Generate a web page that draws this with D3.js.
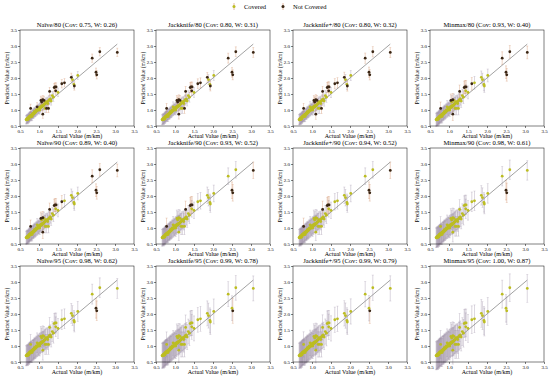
<!DOCTYPE html>
<html>
<head>
<meta charset="utf-8">
<script src="https://cdn.jsdelivr.net/npm/d3@7"></script>
<style>
  body { margin: 0; background: #fff; }
  svg text { font-family: "Liberation Serif", "DejaVu Serif", serif; }
  .tick text { font-size: 5px; }
</style>
</head>
<body>
<svg id="chart" width="550" height="377"></svg>
<script>
// actual vs predicted values (same point estimates in every panel)
const actual = [0.66,0.67,0.68,0.69,0.70,0.70,0.71,0.72,0.72,0.73,0.74,0.74,0.75,0.76,0.76,0.77,0.78,0.78,0.79,0.80,
  0.80,0.81,0.82,0.83,0.84,0.85,0.86,0.86,0.87,0.88,0.89,0.90,0.91,0.92,0.93,0.94,0.95,0.96,0.97,0.98,
  0.99,1.00,1.01,1.02,1.03,1.04,1.05,1.06,1.07,1.08,1.09,1.10,1.10,1.11,1.12,1.13,1.14,1.15,1.16,1.17,
  1.18,1.20,1.21,1.22,1.23,1.25,1.26,1.27,1.28,1.30,1.32,1.35,1.38,1.40,1.42,1.44,1.45,1.50,1.60,1.67,
  1.85,1.88,1.92,1.93,2.02,2.40,2.50,2.52,2.60,3.06];
const predicted = [0.70,0.69,0.72,0.73,0.74,0.71,0.70,0.76,0.74,0.78,0.73,0.77,0.80,0.78,0.81,0.82,1.05,0.80,0.83,0.84,
  0.79,0.86,0.80,0.88,0.86,0.90,0.87,0.90,0.93,0.95,0.91,0.92,0.97,0.94,1.00,0.97,1.10,0.98,1.02,1.05,
  1.01,1.03,1.08,1.00,1.10,1.06,1.30,1.12,1.25,1.10,1.14,0.87,1.32,1.13,1.15,1.30,1.18,1.20,1.05,1.21,
  1.25,1.05,1.24,1.27,1.20,1.05,1.30,1.32,1.58,1.35,1.28,1.45,1.40,1.70,1.72,1.60,1.72,1.55,1.82,1.85,
  2.02,1.95,1.80,1.75,2.08,2.62,2.18,2.10,2.82,2.80];

const methods = ["Naïve", "Jackknife", "Jackknife+", "Minmax"];
const levels = ["80", "90", "95"];
// coverage and mean interval width per level (rows) and method (columns)
const coverage = [
  ["0.75", "0.80", "0.80", "0.93"],
  ["0.89", "0.93", "0.94", "0.98"],
  ["0.98", "0.99", "0.99", "1.00"]
];
const widths = [
  [0.26, 0.31, 0.32, 0.40],
  [0.40, 0.52, 0.52, 0.61],
  [0.62, 0.78, 0.79, 0.87]
];
const ticks = [0.5, 1.0, 1.5, 2.0, 2.5, 3.0, 3.5];

const svg = d3.select("#chart");
const colLeft = [20, 156, 293, 430];
const rowTop = [30, 148, 266];
const pw = 114, ph = 96;

const coveredDot = "#bcbd22", coveredBar = "#9c8ea6";
const missDot = "#3a2614", missBar = "#d0875a";

const points = actual.map((a, i) => ({ a: a, p: predicted[i] }));

levels.forEach(function(lev, r) {
  methods.forEach(function(m, c) {
    const w = widths[r][c];
    const g = svg.append("g").attr("transform", "translate(" + colLeft[c] + "," + rowTop[r] + ")");
    const x = d3.scaleLinear().domain([0.5, 3.5]).range([0, pw]);
    const y = d3.scaleLinear().domain([0.5, 3.5]).range([ph, 0]);

    // axes
    const xa = g.append("g").attr("transform", "translate(0," + ph + ")")
      .call(d3.axisBottom(x).tickValues(ticks).tickFormat(d3.format(".1f")).tickSize(2).tickPadding(1));
    const ya = g.append("g")
      .call(d3.axisLeft(y).tickValues(ticks).tickFormat(d3.format(".1f")).tickSize(2).tickPadding(1));
    [xa, ya].forEach(function(a) {
      a.select(".domain").remove();
      a.selectAll("line").attr("stroke", "#000").attr("stroke-width", 0.5);
      a.selectAll("text").attr("fill", "#000");
    });

    const data = points.map(d => ({ a: d.a, p: d.p, lo: d.p - w / 2, hi: d.p + w / 2,
      cov: Math.abs(d.p - d.a) <= w / 2 }));
    const ordered = data.filter(d => d.cov).concat(data.filter(d => !d.cov));

    const bars = g.append("g");
    ordered.forEach(function(d) {
      const col = d.cov ? coveredBar : missBar;
      bars.append("line")
        .attr("x1", x(d.a)).attr("x2", x(d.a))
        .attr("y1", y(d.lo)).attr("y2", y(d.hi))
        .attr("stroke", col).attr("stroke-width", 0.7).attr("opacity", 0.5);
      [d.lo, d.hi].forEach(function(v) {
        bars.append("line")
          .attr("x1", x(d.a) - 1).attr("x2", x(d.a) + 1)
          .attr("y1", y(v)).attr("y2", y(v))
          .attr("stroke", col).attr("stroke-width", 0.5).attr("opacity", 0.5);
      });
    });

    // ideal line
    const lo = d3.min(actual), hi = d3.max(actual);
    g.append("line")
      .attr("x1", x(lo)).attr("y1", y(lo)).attr("x2", x(hi)).attr("y2", y(hi))
      .attr("stroke", "#8a8a8a").attr("stroke-width", 0.8);

    g.append("g").selectAll("circle").data(ordered).enter().append("circle")
      .attr("cx", d => x(d.a)).attr("cy", d => y(d.p)).attr("r", 1.4)
      .attr("fill", d => d.cov ? coveredDot : missDot);

    g.append("rect").attr("width", pw).attr("height", ph)
      .attr("fill", "none").attr("stroke", "#000").attr("stroke-width", 0.5);

    g.append("text").attr("x", pw / 2).attr("y", -3).attr("text-anchor", "middle")
      .style("font-size", "6.6px")
      .text(m + "/" + lev + " (Cov: " + coverage[r][c] + ", W: " + w.toFixed(2) + ")");
    g.append("text").attr("x", pw / 2).attr("y", ph + 11.5).attr("text-anchor", "middle")
      .style("font-size", "6px").text("Actual Value (m/km)");
    g.append("text").attr("transform", "translate(-11," + (ph / 2) + ") rotate(-90)")
      .attr("text-anchor", "middle").style("font-size", "5.5px").text("Predicted Value (m/km)");
  });
});

// legend
const legend = svg.append("g");
[["Covered", coveredDot, 234], ["Not Covered", missDot, 283]].forEach(function(l) {
  legend.append("line").attr("x1", l[2]).attr("x2", l[2]).attr("y1", 3).attr("y2", 10)
    .attr("stroke", missBar).attr("stroke-width", 0.8).attr("opacity", 0.7);
  legend.append("circle").attr("cx", l[2]).attr("cy", 6.5).attr("r", 1.5).attr("fill", l[1]);
  legend.append("text").attr("x", l[2] + 10).attr("y", 9).style("font-size", "6.5px").text(l[0]);
});
</script>
</body>
</html>
